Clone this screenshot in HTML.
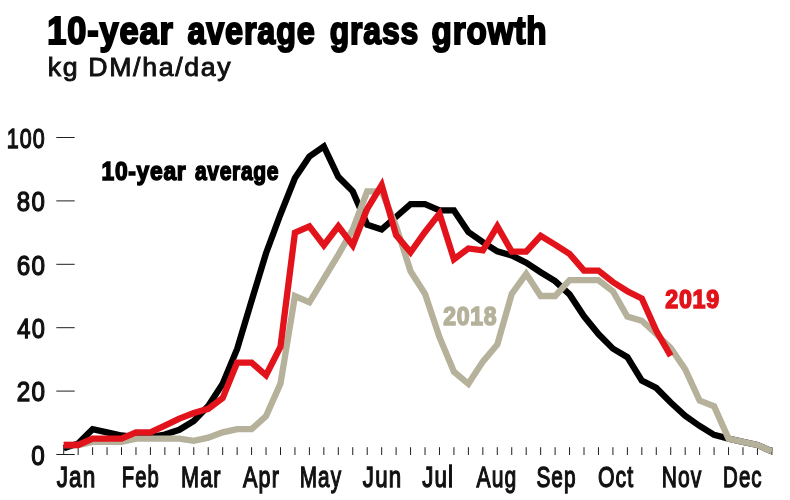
<!DOCTYPE html>
<html><head><meta charset="utf-8"><title>10-year average grass growth</title>
<style>
html,body{margin:0;padding:0;background:#fff;}
body{width:790px;height:500px;overflow:hidden;}
svg{display:block;font-family:"Liberation Sans",sans-serif;}
</style></head><body>
<svg width="790" height="500" viewBox="0 0 790 500">
<rect width="790" height="500" fill="#ffffff"/>
<line x1="56.3" x2="74.7" y1="454.50" y2="454.50" stroke="#1f1f1f" stroke-width="1"/>
<line x1="56.3" x2="74.7" y1="391.10" y2="391.10" stroke="#1f1f1f" stroke-width="1"/>
<line x1="56.3" x2="74.7" y1="327.70" y2="327.70" stroke="#1f1f1f" stroke-width="1"/>
<line x1="56.3" x2="74.7" y1="264.30" y2="264.30" stroke="#1f1f1f" stroke-width="1"/>
<line x1="56.3" x2="74.7" y1="200.90" y2="200.90" stroke="#1f1f1f" stroke-width="1"/>
<line x1="56.3" x2="74.7" y1="137.50" y2="137.50" stroke="#1f1f1f" stroke-width="1"/>
<line x1="63.70" x2="63.70" y1="447.2" y2="455" stroke="#1f1f1f" stroke-width="1"/>
<line x1="78.15" x2="78.15" y1="447.2" y2="455" stroke="#1f1f1f" stroke-width="1"/>
<line x1="92.61" x2="92.61" y1="447.2" y2="455" stroke="#1f1f1f" stroke-width="1"/>
<line x1="107.06" x2="107.06" y1="447.2" y2="455" stroke="#1f1f1f" stroke-width="1"/>
<line x1="121.51" x2="121.51" y1="447.2" y2="455" stroke="#1f1f1f" stroke-width="1"/>
<line x1="135.97" x2="135.97" y1="447.2" y2="455" stroke="#1f1f1f" stroke-width="1"/>
<line x1="150.42" x2="150.42" y1="447.2" y2="455" stroke="#1f1f1f" stroke-width="1"/>
<line x1="164.87" x2="164.87" y1="447.2" y2="455" stroke="#1f1f1f" stroke-width="1"/>
<line x1="179.32" x2="179.32" y1="447.2" y2="455" stroke="#1f1f1f" stroke-width="1"/>
<line x1="193.78" x2="193.78" y1="447.2" y2="455" stroke="#1f1f1f" stroke-width="1"/>
<line x1="208.23" x2="208.23" y1="447.2" y2="455" stroke="#1f1f1f" stroke-width="1"/>
<line x1="222.68" x2="222.68" y1="447.2" y2="455" stroke="#1f1f1f" stroke-width="1"/>
<line x1="237.14" x2="237.14" y1="447.2" y2="455" stroke="#1f1f1f" stroke-width="1"/>
<line x1="251.59" x2="251.59" y1="447.2" y2="455" stroke="#1f1f1f" stroke-width="1"/>
<line x1="266.04" x2="266.04" y1="447.2" y2="455" stroke="#1f1f1f" stroke-width="1"/>
<line x1="280.50" x2="280.50" y1="447.2" y2="455" stroke="#1f1f1f" stroke-width="1"/>
<line x1="294.95" x2="294.95" y1="447.2" y2="455" stroke="#1f1f1f" stroke-width="1"/>
<line x1="309.40" x2="309.40" y1="447.2" y2="455" stroke="#1f1f1f" stroke-width="1"/>
<line x1="323.85" x2="323.85" y1="447.2" y2="455" stroke="#1f1f1f" stroke-width="1"/>
<line x1="338.31" x2="338.31" y1="447.2" y2="455" stroke="#1f1f1f" stroke-width="1"/>
<line x1="352.76" x2="352.76" y1="447.2" y2="455" stroke="#1f1f1f" stroke-width="1"/>
<line x1="367.21" x2="367.21" y1="447.2" y2="455" stroke="#1f1f1f" stroke-width="1"/>
<line x1="381.67" x2="381.67" y1="447.2" y2="455" stroke="#1f1f1f" stroke-width="1"/>
<line x1="396.12" x2="396.12" y1="447.2" y2="455" stroke="#1f1f1f" stroke-width="1"/>
<line x1="410.57" x2="410.57" y1="447.2" y2="455" stroke="#1f1f1f" stroke-width="1"/>
<line x1="425.02" x2="425.02" y1="447.2" y2="455" stroke="#1f1f1f" stroke-width="1"/>
<line x1="439.48" x2="439.48" y1="447.2" y2="455" stroke="#1f1f1f" stroke-width="1"/>
<line x1="453.93" x2="453.93" y1="447.2" y2="455" stroke="#1f1f1f" stroke-width="1"/>
<line x1="468.38" x2="468.38" y1="447.2" y2="455" stroke="#1f1f1f" stroke-width="1"/>
<line x1="482.84" x2="482.84" y1="447.2" y2="455" stroke="#1f1f1f" stroke-width="1"/>
<line x1="497.29" x2="497.29" y1="447.2" y2="455" stroke="#1f1f1f" stroke-width="1"/>
<line x1="511.74" x2="511.74" y1="447.2" y2="455" stroke="#1f1f1f" stroke-width="1"/>
<line x1="526.20" x2="526.20" y1="447.2" y2="455" stroke="#1f1f1f" stroke-width="1"/>
<line x1="540.65" x2="540.65" y1="447.2" y2="455" stroke="#1f1f1f" stroke-width="1"/>
<line x1="555.10" x2="555.10" y1="447.2" y2="455" stroke="#1f1f1f" stroke-width="1"/>
<line x1="569.55" x2="569.55" y1="447.2" y2="455" stroke="#1f1f1f" stroke-width="1"/>
<line x1="584.01" x2="584.01" y1="447.2" y2="455" stroke="#1f1f1f" stroke-width="1"/>
<line x1="598.46" x2="598.46" y1="447.2" y2="455" stroke="#1f1f1f" stroke-width="1"/>
<line x1="612.91" x2="612.91" y1="447.2" y2="455" stroke="#1f1f1f" stroke-width="1"/>
<line x1="627.37" x2="627.37" y1="447.2" y2="455" stroke="#1f1f1f" stroke-width="1"/>
<line x1="641.82" x2="641.82" y1="447.2" y2="455" stroke="#1f1f1f" stroke-width="1"/>
<line x1="656.27" x2="656.27" y1="447.2" y2="455" stroke="#1f1f1f" stroke-width="1"/>
<line x1="670.73" x2="670.73" y1="447.2" y2="455" stroke="#1f1f1f" stroke-width="1"/>
<line x1="685.18" x2="685.18" y1="447.2" y2="455" stroke="#1f1f1f" stroke-width="1"/>
<line x1="699.63" x2="699.63" y1="447.2" y2="455" stroke="#1f1f1f" stroke-width="1"/>
<line x1="714.09" x2="714.09" y1="447.2" y2="455" stroke="#1f1f1f" stroke-width="1"/>
<line x1="728.54" x2="728.54" y1="447.2" y2="455" stroke="#1f1f1f" stroke-width="1"/>
<line x1="742.99" x2="742.99" y1="447.2" y2="455" stroke="#1f1f1f" stroke-width="1"/>
<line x1="757.44" x2="757.44" y1="447.2" y2="455" stroke="#1f1f1f" stroke-width="1"/>
<line x1="771.90" x2="771.90" y1="447.2" y2="455" stroke="#1f1f1f" stroke-width="1"/>
<text y="43.80" font-size="38.57" font-weight="bold" fill="#000" stroke="#000" stroke-width="2.00" stroke-linejoin="miter" stroke-miterlimit="3" letter-spacing="1.00"><tspan x="47.28" textLength="126.45" lengthAdjust="spacingAndGlyphs">10-year</tspan> <tspan x="187.45" textLength="128.09" lengthAdjust="spacingAndGlyphs">average</tspan> <tspan x="329.76" textLength="89.35" lengthAdjust="spacingAndGlyphs">grass</tspan> <tspan x="431.61" textLength="115.93" lengthAdjust="spacingAndGlyphs">growth</tspan></text>
<text x="47.73" y="76.35" font-size="25.65" font-weight="normal" fill="#111111" stroke="#111111" stroke-width="0.90" stroke-linejoin="miter" stroke-miterlimit="3" textLength="184.58" lengthAdjust="spacingAndGlyphs" letter-spacing="1.60">kg DM/ha/day</text>
<text x="31.37" y="464.85" font-size="27.46" font-weight="normal" fill="#111111" stroke="#111111" stroke-width="1.30" stroke-linejoin="miter" stroke-miterlimit="3" textLength="14.81" lengthAdjust="spacingAndGlyphs" letter-spacing="1.50">0</text>
<text x="16.63" y="401.45" font-size="27.46" font-weight="normal" fill="#111111" stroke="#111111" stroke-width="1.30" stroke-linejoin="miter" stroke-miterlimit="3" textLength="29.57" lengthAdjust="spacingAndGlyphs" letter-spacing="1.50">20</text>
<text x="17.31" y="338.05" font-size="27.46" font-weight="normal" fill="#111111" stroke="#111111" stroke-width="1.30" stroke-linejoin="miter" stroke-miterlimit="3" textLength="28.83" lengthAdjust="spacingAndGlyphs" letter-spacing="1.50">40</text>
<text x="16.63" y="274.65" font-size="27.46" font-weight="normal" fill="#111111" stroke="#111111" stroke-width="1.30" stroke-linejoin="miter" stroke-miterlimit="3" textLength="29.57" lengthAdjust="spacingAndGlyphs" letter-spacing="1.50">60</text>
<text x="16.86" y="211.25" font-size="27.46" font-weight="normal" fill="#111111" stroke="#111111" stroke-width="1.30" stroke-linejoin="miter" stroke-miterlimit="3" textLength="29.32" lengthAdjust="spacingAndGlyphs" letter-spacing="1.50">80</text>
<text x="6.69" y="147.85" font-size="27.46" font-weight="normal" fill="#111111" stroke="#111111" stroke-width="1.30" stroke-linejoin="miter" stroke-miterlimit="3" textLength="39.27" lengthAdjust="spacingAndGlyphs" letter-spacing="1.50">100</text>
<text x="56.67" y="486.65" font-size="29.28" font-weight="normal" fill="#111111" stroke="#111111" stroke-width="1.30" stroke-linejoin="miter" stroke-miterlimit="3" textLength="39.74" lengthAdjust="spacingAndGlyphs" letter-spacing="1.50">Jan</text>
<text x="121.82" y="486.65" font-size="29.28" font-weight="normal" fill="#111111" stroke="#111111" stroke-width="1.30" stroke-linejoin="miter" stroke-miterlimit="3" textLength="37.99" lengthAdjust="spacingAndGlyphs" letter-spacing="1.50">Feb</text>
<text x="181.00" y="486.65" font-size="29.28" font-weight="normal" fill="#111111" stroke="#111111" stroke-width="1.30" stroke-linejoin="miter" stroke-miterlimit="3" textLength="40.67" lengthAdjust="spacingAndGlyphs" letter-spacing="1.50">Mar</text>
<text x="243.07" y="486.65" font-size="29.28" font-weight="normal" fill="#111111" stroke="#111111" stroke-width="1.30" stroke-linejoin="miter" stroke-miterlimit="3" textLength="36.90" lengthAdjust="spacingAndGlyphs" letter-spacing="1.50">Apr</text>
<text x="299.78" y="486.65" font-size="29.28" font-weight="normal" fill="#111111" stroke="#111111" stroke-width="1.30" stroke-linejoin="miter" stroke-miterlimit="3" textLength="42.37" lengthAdjust="spacingAndGlyphs" letter-spacing="1.50">May</text>
<text x="362.87" y="486.65" font-size="29.28" font-weight="normal" fill="#111111" stroke="#111111" stroke-width="1.30" stroke-linejoin="miter" stroke-miterlimit="3" textLength="39.30" lengthAdjust="spacingAndGlyphs" letter-spacing="1.50">Jun</text>
<text x="422.17" y="486.65" font-size="29.28" font-weight="normal" fill="#111111" stroke="#111111" stroke-width="1.30" stroke-linejoin="miter" stroke-miterlimit="3" textLength="31.99" lengthAdjust="spacingAndGlyphs" letter-spacing="1.50">Jul</text>
<text x="476.57" y="486.65" font-size="29.28" font-weight="normal" fill="#111111" stroke="#111111" stroke-width="1.30" stroke-linejoin="miter" stroke-miterlimit="3" textLength="40.79" lengthAdjust="spacingAndGlyphs" letter-spacing="1.50">Aug</text>
<text x="536.38" y="486.65" font-size="29.28" font-weight="normal" fill="#111111" stroke="#111111" stroke-width="1.30" stroke-linejoin="miter" stroke-miterlimit="3" textLength="40.29" lengthAdjust="spacingAndGlyphs" letter-spacing="1.50">Sep</text>
<text x="597.96" y="486.65" font-size="29.28" font-weight="normal" fill="#111111" stroke="#111111" stroke-width="1.30" stroke-linejoin="miter" stroke-miterlimit="3" textLength="36.29" lengthAdjust="spacingAndGlyphs" letter-spacing="1.50">Oct</text>
<text x="661.75" y="486.65" font-size="29.28" font-weight="normal" fill="#111111" stroke="#111111" stroke-width="1.30" stroke-linejoin="miter" stroke-miterlimit="3" textLength="40.72" lengthAdjust="spacingAndGlyphs" letter-spacing="1.50">Nov</text>
<text x="723.10" y="486.65" font-size="29.28" font-weight="normal" fill="#111111" stroke="#111111" stroke-width="1.30" stroke-linejoin="miter" stroke-miterlimit="3" textLength="39.56" lengthAdjust="spacingAndGlyphs" letter-spacing="1.50">Dec</text>
<text y="179.65" font-size="25.86" font-weight="bold" fill="#000" stroke="#000" stroke-width="1.50" stroke-linejoin="miter" stroke-miterlimit="3" letter-spacing="0.80"><tspan x="101.51" textLength="84.86" lengthAdjust="spacingAndGlyphs">10-year</tspan> <tspan x="194.94" textLength="84.21" lengthAdjust="spacingAndGlyphs">average</tspan></text>
<text x="443.15" y="324.95" font-size="25.49" font-weight="bold" fill="#b5b19a" stroke="#b5b19a" stroke-width="1.50" stroke-linejoin="miter" stroke-miterlimit="3" textLength="54.10" lengthAdjust="spacingAndGlyphs" letter-spacing="0.80">2018</text>
<text x="665.25" y="308.15" font-size="25.77" font-weight="bold" fill="#e2131a" stroke="#e2131a" stroke-width="1.50" stroke-linejoin="miter" stroke-miterlimit="3" textLength="54.61" lengthAdjust="spacingAndGlyphs" letter-spacing="0.80">2019</text>
<path d="M63.70 448.16 L78.15 443.40 L92.61 429.14 L107.06 432.31 L121.51 435.48 L135.97 437.06 L150.42 437.06 L164.87 434.53 L179.32 429.77 L193.78 420.90 L208.23 406.00 L222.68 383.81 L237.14 348.94 L251.59 300.75 L266.04 253.21 L280.50 214.21 L294.95 178.08 L309.40 156.52 L323.85 146.38 L338.31 176.81 L352.76 191.39 L367.21 224.68 L381.67 229.43 L396.12 216.75 L410.57 204.07 L425.02 204.07 L439.48 210.41 L453.93 210.41 L468.38 231.97 L482.84 242.11 L497.29 251.30 L511.74 255.42 L526.20 262.72 L540.65 272.23 L555.10 281.10 L569.55 294.41 L584.01 316.29 L598.46 334.04 L612.91 348.62 L627.37 357.18 L641.82 380.64 L656.27 387.93 L670.73 402.51 L685.18 415.83 L699.63 425.97 L714.09 434.85 L728.54 438.65 L742.99 441.82 L757.44 444.99 L771.90 451.33" fill="none" stroke="#000000" stroke-width="6.3" stroke-linejoin="miter" stroke-miterlimit="10" stroke-linecap="butt"/>
<path d="M63.70 444.99 L78.15 444.99 L92.61 441.82 L107.06 441.82 L121.51 441.82 L135.97 438.65 L150.42 438.65 L164.87 438.65 L179.32 438.65 L193.78 440.87 L208.23 437.70 L222.68 432.31 L237.14 429.14 L251.59 429.14 L266.04 416.14 L280.50 383.49 L294.95 296.00 L309.40 302.34 L323.85 278.56 L338.31 254.79 L352.76 229.43 L367.21 191.39 L381.67 191.39 L396.12 226.26 L410.57 271.27 L425.02 293.78 L439.48 337.21 L453.93 371.76 L468.38 383.81 L482.84 361.62 L497.29 344.50 L511.74 293.78 L526.20 273.81 L540.65 296.00 L555.10 296.00 L569.55 280.15 L584.01 280.15 L598.46 280.15 L612.91 291.25 L627.37 316.61 L641.82 320.73 L656.27 334.04 L670.73 347.99 L685.18 369.23 L699.63 400.61 L714.09 406.32 L728.54 438.65 L742.99 441.82 L757.44 444.99 L771.90 451.33" fill="none" stroke="#b5b19a" stroke-width="6.3" stroke-linejoin="miter" stroke-miterlimit="10" stroke-linecap="butt"/>
<path d="M63.70 444.99 L78.15 444.99 L92.61 438.65 L107.06 438.65 L121.51 438.65 L135.97 432.31 L150.42 432.31 L164.87 425.65 L179.32 418.68 L193.78 412.97 L208.23 408.85 L222.68 398.07 L237.14 362.57 L251.59 362.57 L266.04 375.25 L280.50 346.72 L294.95 232.60 L309.40 226.26 L323.85 245.28 L338.31 226.26 L352.76 245.28 L367.21 208.83 L381.67 185.05 L396.12 235.14 L410.57 252.25 L425.02 231.97 L439.48 213.58 L453.93 259.23 L468.38 248.45 L482.84 250.35 L497.29 226.26 L511.74 251.62 L526.20 251.62 L540.65 235.77 L555.10 244.65 L569.55 253.84 L584.01 270.64 L598.46 270.64 L612.91 282.05 L627.37 291.25 L641.82 298.54 L656.27 330.87 L670.73 355.91" fill="none" stroke="#e2131a" stroke-width="6.3" stroke-linejoin="miter" stroke-miterlimit="10" stroke-linecap="butt"/>
</svg>
</body></html>
